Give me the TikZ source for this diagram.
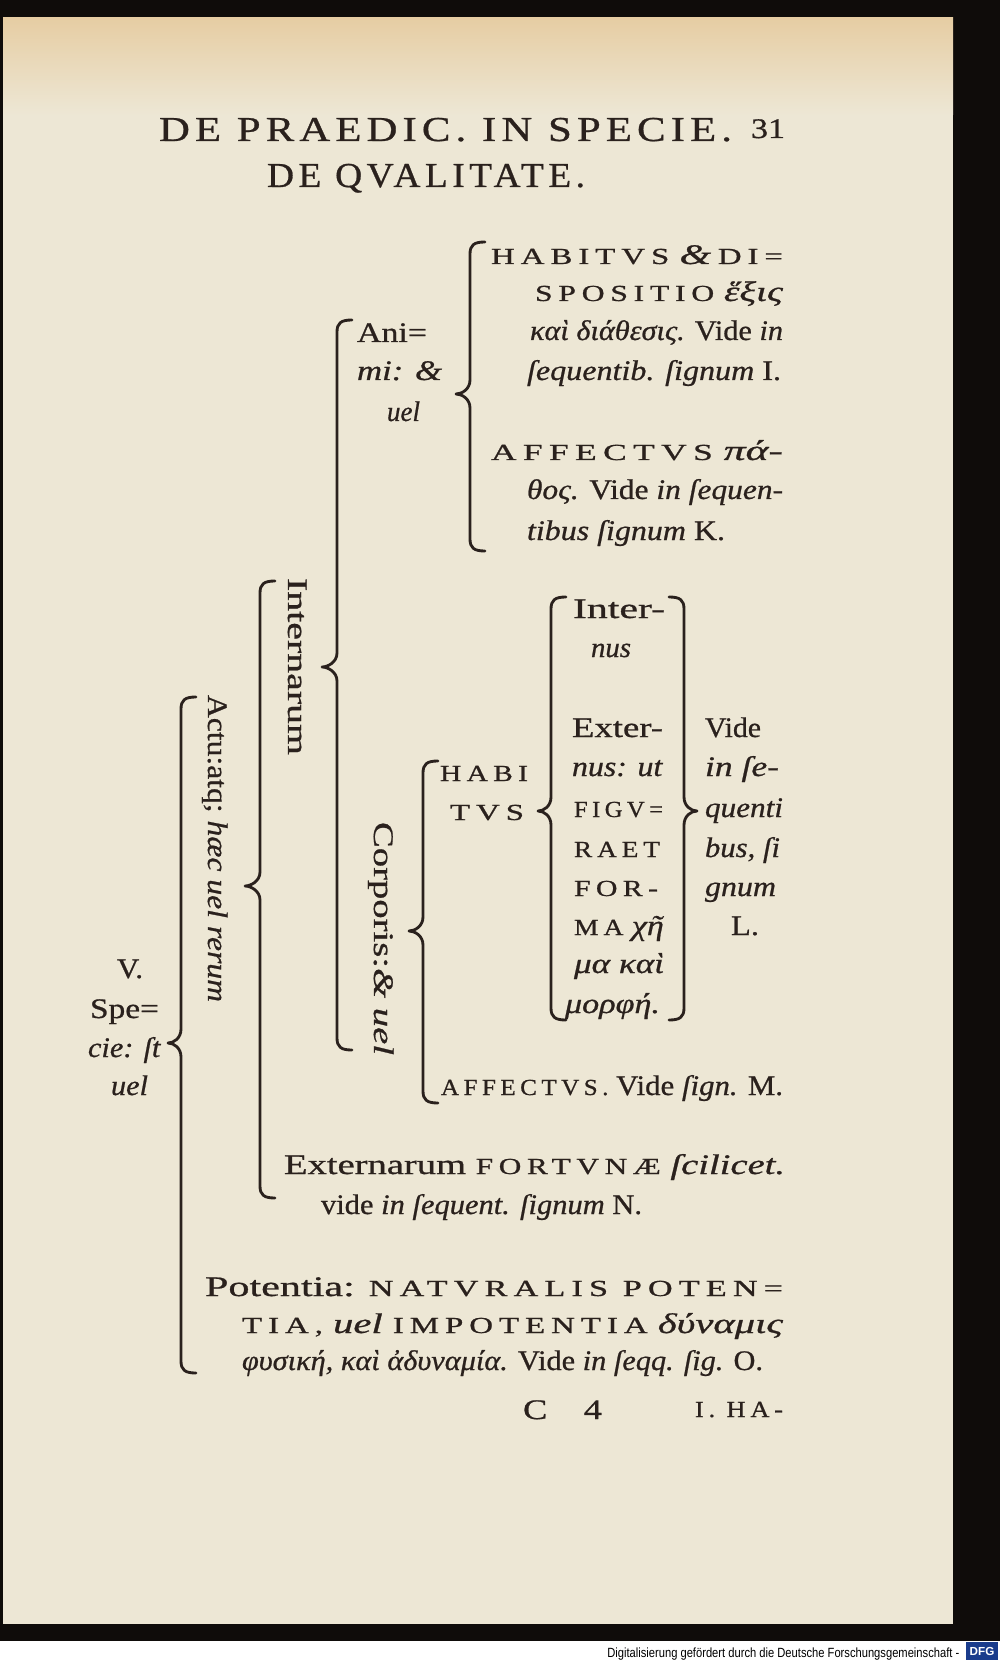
\documentclass[tikz,border=0pt]{standalone}
\usepackage{fontspec}
\usepackage{graphicx}
\setmainfont{Liberation Serif}[FakeBold=0.7]
\newfontfamily\dfgfont{Liberation Sans}
\newdimen\pxu \pxu=0.6pt
\newcommand\Fit[2]{\resizebox{#1\pxu}{\height}{#2}}
\newcommand\caps[1]{{\fontsize{13.8}{16}\selectfont\addfontfeatures{LetterSpace=18}#1}}
\newcommand\hdr{\fontsize{21}{24}\selectfont\addfontfeatures{LetterSpace=12}}
\definecolor{ink}{HTML}{2A211D}
\definecolor{paper}{HTML}{EDE7D5}
\definecolor{stain}{HTML}{E6CDA3}
\definecolor{frame}{HTML}{0F0C0A}
\definecolor{dfgblue}{HTML}{1A3C8C}
\newcommand\LBrace[5]{\draw[brace] ({#1+15},#2) .. controls ({#1+4},#2) and (#1,{#2+3}) .. (#1,{#2+12}) -- (#1,{#3-14}) .. controls (#1,{#3-5}) and ({#5+6},#3) .. (#5,#3) .. controls ({#5+6},#3) and (#1,{#3+5}) .. (#1,{#3+14}) -- (#1,{#4-12}) .. controls (#1,{#4-3}) and ({#1+4},#4) .. ({#1+15},#4);}
\newcommand\RBrace[5]{\draw[brace] ({#1-15},#2) .. controls ({#1-4},#2) and (#1,{#2+3}) .. (#1,{#2+12}) -- (#1,{#3-14}) .. controls (#1,{#3-5}) and ({#5-6},#3) .. (#5,#3) .. controls ({#5-6},#3) and (#1,{#3+5}) .. (#1,{#3+14}) -- (#1,{#4-12}) .. controls (#1,{#4-3}) and ({#1-4},#4) .. ({#1-15},#4);}
\tikzset{
  txt/.style={inner sep=0pt, outer sep=0pt, anchor=base west, text=ink, font=\fontsize{17}{20}\selectfont},
  brace/.style={draw=ink, line width=1.7pt, line cap=round, line join=round},
}
\begin{document}
\begin{tikzpicture}[x=0.6pt, y=-0.6pt]
\useasboundingbox (0,0) rectangle (1000,1662);
% page and frame
\fill[frame] (0,0) rectangle (1000,1641);
\fill[white] (0,1641) rectangle (1000,1662);
\fill[paper] (3,18) rectangle (953,1624);
\shade[top color=stain, bottom color=paper] (3,18) rectangle (953,115);
% header
\node[txt] (h1) at (159,141) {\Fit{573}{\hdr DE PRAEDIC. IN SPECIE.}};
\node[txt] (pg) at (751,138) {\Fit{34}{31}};
\node[txt] (h2) at (267,187) {\Fit{318}{\hdr DE QVALITATE.}};
% Animi branch
\node[txt] (a1) at (491,264) {\Fit{292}{\caps{HABITVS} \textit{\&}\,\caps{DI=}}};
\node[txt] (a2) at (535,301) {\Fit{248}{\caps{SPOSITIO} \textit{ἕξις}}};
\node[txt] (a3) at (530,340) {\Fit{253}{\textit{καὶ διάθεσις.} Vide \textit{in}}};
\node[txt] (a4) at (527,380) {\Fit{254}{\textit{ſequentib. ſignum} I.}};
\node[txt] (a5) at (491,460) {\Fit{292}{\caps{AFFECTVS} \textit{πά-}}};
\node[txt] (a6) at (527,499) {\Fit{256}{\textit{θος.} Vide \textit{in ſequen-}}};
\node[txt] (a7) at (527,540) {\Fit{198}{\textit{tibus ſignum} K.}};
\node[txt] (an1) at (357,342) {\Fit{70}{Ani=}};
\node[txt] (an2) at (357,380) {\Fit{85}{\textit{mi: \&}}};
\node[txt] (an3) at (387,421) {\Fit{33}{\textit{uel}}};
% rotated labels
\node[txt, rotate=-90] (intn) at (288,578) {\Fit{177}{Internarum}};
\node[txt, rotate=-90] (actu) at (208,695) {\Fit{307}{Actu:atq; \textit{hæc uel rerum}}};
\node[txt, rotate=-90] (corp) at (374,822) {\Fit{233}{Corporis:\textit{\& uel}}};
% V. Speciei
\node[txt] (v1) at (117,978) {\Fit{26}{V.}};
\node[txt] (v2) at (90,1018) {\Fit{69}{Spe=}};
\node[txt] (v3) at (88,1057) {\Fit{73}{\textit{cie: ſt}}};
\node[txt] (v4) at (111,1095) {\Fit{37}{\textit{uel}}};
% Corporis habitus
\node[txt] (hb1) at (440,781) {\Fit{88}{\caps{HABI}}};
\node[txt] (hb2) at (450,820) {\Fit{74}{\caps{TVS}}};
\node[txt] (c1) at (573,618) {\Fit{92}{Inter-}};
\node[txt] (c2) at (591,657) {\Fit{40}{\textit{nus}}};
\node[txt] (c3) at (572,737) {\Fit{91}{Exter-}};
\node[txt] (c4) at (572,776) {\Fit{91}{\textit{nus: ut}}};
\node[txt] (c5) at (574,817) {\Fit{89}{\caps{FIGV=}}};
\node[txt] (c6) at (574,857) {\Fit{86}{\caps{RAET}}};
\node[txt] (c7) at (574,896) {\Fit{84}{\caps{FOR-}}};
\node[txt] (c8) at (574,935) {\Fit{90}{\caps{MA} \textit{χῆ}}};
\node[txt] (c9) at (574,973) {\Fit{90}{\textit{μα καὶ}}};
\node[txt] (c10) at (565,1013) {\Fit{95}{\textit{μορφή.}}};
\node[txt] (r1) at (705,737) {\Fit{56}{Vide}};
\node[txt] (r2) at (705,776) {\Fit{74}{\textit{in ſe-}}};
\node[txt] (r3) at (705,817) {\Fit{78}{\textit{quenti}}};
\node[txt] (r4) at (705,857) {\Fit{75}{\textit{bus, ſi}}};
\node[txt] (r5) at (705,896) {\Fit{71}{\textit{gnum}}};
\node[txt] (r6) at (731,935) {\Fit{28}{L.}};
\node[txt] (af) at (441,1095) {\Fit{342}{\caps{AFFECTVS.} Vide \textit{ſign.} M.}};
% Externarum
\node[txt] (ex1) at (284,1174) {\Fit{501}{Externarum \caps{FORTVNÆ} \textit{ſcilicet.}}};
\node[txt] (ex2) at (321,1214) {\Fit{321}{vide \textit{in ſequent. ſignum} N.}};
% Potentia
\node[txt] (p1) at (205,1296) {\Fit{578}{Potentia: \caps{NATVRALIS POTEN=}}};
\node[txt] (p2) at (242,1333) {\Fit{541}{\caps{TIA,} \textit{uel} \caps{IMPOTENTIA} \textit{δύναμις}}};
\node[txt] (p3) at (242,1370) {\Fit{521}{\textit{φυσική, καὶ ἀδυναμία.} Vide \textit{in ſeqq. ſig.} O.}};
% signature and catchword
\node[txt] (sig) at (523,1419) {\Fit{79}{C\quad 4}};
\node[txt] (cw) at (695,1417) {\Fit{88}{\caps{I. HA-}}};
% braces
\LBrace{470}{242}{394}{551}{456}
\LBrace{337}{320}{667}{1050}{322}
\LBrace{260}{581}{886}{1198}{245}
\LBrace{181}{697}{1043}{1373}{168}
\LBrace{423}{761}{931}{1103}{409}
\LBrace{551}{597}{811}{1020}{538}
\RBrace{684}{597}{811}{1020}{697}
% footer
\node[inner sep=0pt, anchor=base west, font=\dfgfont\fontsize{8}{9}\selectfont] (dfg) at (607,1657) {\Fit{352}{Digitalisierung gefördert durch die Deutsche Forschungsgemeinschaft -}};
\node[fill=dfgblue, text=white, inner sep=0pt, minimum width=19pt, minimum height=11pt, font=\dfgfont\bfseries\fontsize{7}{8}\selectfont] (logo) at (982,1651) {DFG};
\end{tikzpicture}
\end{document}
